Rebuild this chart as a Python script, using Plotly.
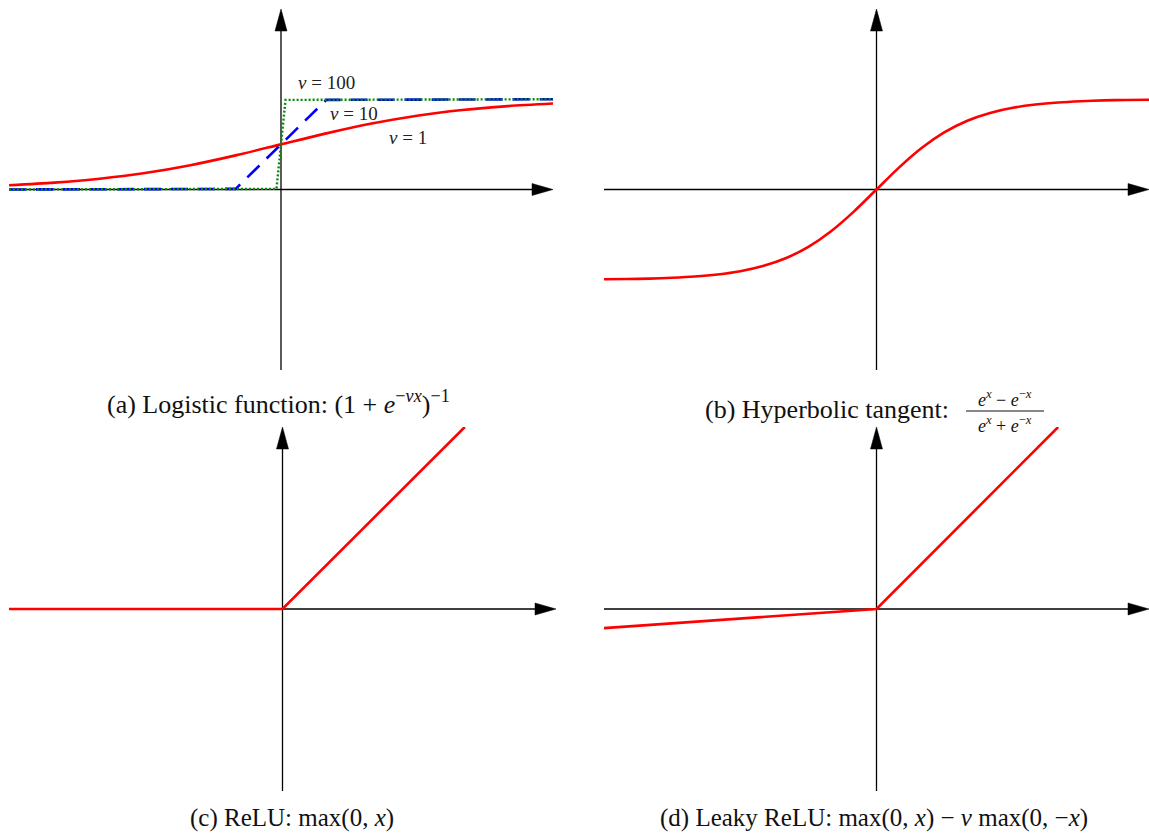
import plotly.graph_objects as go

W, H = 1149, 836

# ---------------- data ----------------
x_logit = [-3.0, -2.5, -2.0, -1.5, -1.0, -0.5, 0.0, 0.5, 1.0, 1.5, 2.0, 2.5, 3.0]
y_nu1 = [0.047, 0.076, 0.119, 0.182, 0.269, 0.378, 0.5, 0.622, 0.731, 0.818, 0.881, 0.924, 0.953]

x_nu10 = [-3.0, -0.5, 0.0, 0.5, 3.0]
y_nu10 = [0.0, 0.007, 0.5, 0.993, 1.0]

x_nu100 = [-3.0, -0.05, 0.0, 0.05, 3.0]
y_nu100 = [0.0, 0.007, 0.5, 0.993, 1.0]

x_tanh = [-3.0, -2.75, -2.5, -2.25, -2.0, -1.75, -1.5, -1.25, -1.0, -0.75, -0.5, -0.25, 0.0,
          0.25, 0.5, 0.75, 1.0, 1.25, 1.5, 1.75, 2.0, 2.25, 2.5, 2.75, 3.0]
y_tanh = [-0.995, -0.992, -0.987, -0.978, -0.964, -0.941, -0.905, -0.848, -0.762, -0.635, -0.462, -0.245, 0.0,
          0.245, 0.462, 0.635, 0.762, 0.848, 0.905, 0.941, 0.964, 0.978, 0.987, 0.992, 0.995]

x_relu = [-3.0, 0.0, 2.0]
y_relu = [0.0, 0.0, 2.0]

x_leaky = [-3.0, 0.0, 2.0]
y_leaky = [-0.21, 0.0, 2.0]

nu_labels = ["<i>ν</i> = 100", "<i>ν</i> = 10", "<i>ν</i> = 1"]
captions = [
    "(a) Logistic function: (1 + <i>e</i><sup>−<i>νx</i></sup>)<sup>−1</sup>",
    "(b) Hyperbolic tangent:",
    "(c) ReLU: max(0, <i>x</i>)",
    "(d) Leaky ReLU: max(0, <i>x</i>) − <i>ν</i> max(0, −<i>x</i>)",
]
frac_num = "<i>e</i><sup><i>x</i></sup> − <i>e</i><sup>−<i>x</i></sup>"
frac_den = "<i>e</i><sup><i>x</i></sup> + <i>e</i><sup>−<i>x</i></sup>"

X_RANGE = [-3, 3]
Y_RANGE = [-2, 2]

RED = "#ff0000"
BLUE = "#0000ff"
GREEN = "#0a8a0a"
SERIF = "Liberation Serif, DejaVu Serif, serif"


def px(x):
    return x / W


def py(y):
    return 1 - y / H


# panel pixel boxes: (left, right, top, bottom)
boxes = {
    "1": (9, 553, 9, 370),
    "2": (604, 1149, 9, 370),
    "3": (9, 556, 427, 791),
    "4": (604, 1149, 427, 791),
}

fig = go.Figure()


def add_line(xs, ys, k, color, dash="solid", width=2.6, shape="linear"):
    fig.add_trace(go.Scatter(
        x=xs, y=ys, mode="lines", xaxis="x" + ("" if k == "1" else k),
        yaxis="y" + ("" if k == "1" else k),
        line=dict(color=color, width=width, dash=dash, shape=shape, smoothing=0.8),
        cliponaxis=False, hoverinfo="skip", showlegend=False))


add_line(x_logit, y_nu1, "1", RED, shape="spline")
add_line(x_nu10, y_nu10, "1", BLUE, dash="17px,10px")
add_line(x_nu100, y_nu100, "1", GREEN, dash="2px,2px", width=2.4)
add_line(x_tanh, y_tanh, "2", RED, shape="spline")
add_line(x_relu, y_relu, "3", RED)
add_line(x_leaky, y_leaky, "4", RED)

layout = dict(
    width=W, height=H, margin=dict(l=0, r=0, t=0, b=0),
    paper_bgcolor="white", plot_bgcolor="white", showlegend=False,
)
shapes = []
annotations = []

for k, (l, r, t, b) in boxes.items():
    xa = "xaxis" + ("" if k == "1" else k)
    ya = "yaxis" + ("" if k == "1" else k)
    xr = "x" + ("" if k == "1" else k)
    yr = "y" + ("" if k == "1" else k)
    layout[xa] = dict(domain=[px(l), min(px(r), 1.0)], range=X_RANGE, visible=False,
                      anchor=yr, fixedrange=True)
    layout[ya] = dict(domain=[py(b), py(t)], range=Y_RANGE, visible=False,
                      anchor=xr, fixedrange=True)
    # axis lines
    shapes.append(dict(type="line", xref=xr, yref=yr, x0=X_RANGE[0], x1=X_RANGE[1] - 0.1,
                       y0=0, y1=0, line=dict(color="black", width=1.3), layer="below"))
    shapes.append(dict(type="line", xref=xr, yref=yr, x0=0, x1=0, y0=Y_RANGE[0],
                       y1=Y_RANGE[1] - 0.1, line=dict(color="black", width=1.3), layer="below"))
    # arrowheads
    shapes.append(dict(type="path", xref=xr, yref=yr, xsizemode="pixel", ysizemode="pixel",
                       xanchor=X_RANGE[1], yanchor=0, path="M0,0 L-21,6 L-21,-6 Z",
                       fillcolor="black", line=dict(color="black", width=0.5), layer="above"))
    shapes.append(dict(type="path", xref=xr, yref=yr, xsizemode="pixel", ysizemode="pixel",
                       xanchor=0, yanchor=Y_RANGE[1], path="M0,0 L-6,-22 L6,-22 Z",
                       fillcolor="black", line=dict(color="black", width=0.5), layer="above"))

# nu labels in panel (a)
for txt, (cx, cy) in zip(nu_labels, [(326, 82), (354, 114), (408, 137)]):
    annotations.append(dict(text=txt, x=px(cx), y=py(cy), xref="paper", yref="paper",
                            showarrow=False, font=dict(family=SERIF, size=19, color="#222"),
                            xanchor="center", yanchor="middle"))

# captions (top row)
for txt, (cx, cy, anc) in zip(captions[:2], [(278, 402, "center"), (703, 409, "left")]):
    annotations.append(dict(text=txt, x=px(cx), y=py(cy), xref="paper", yref="paper",
                            showarrow=False, font=dict(family=SERIF, size=26, color="#111"),
                            xanchor=anc, yanchor="middle"))
# captions (bottom row), kept inside the page
for txt, cx in zip(captions[2:], [292, 874]):
    annotations.append(dict(text=txt, x=px(cx), y=py(833), xref="paper", yref="paper",
                            showarrow=False, font=dict(family=SERIF, size=25, color="#111"),
                            xanchor="center", yanchor="bottom", borderpad=0))

# fraction for tanh
annotations.append(dict(text=frac_num, x=px(1005), y=py(398), xref="paper", yref="paper",
                        showarrow=False, font=dict(family=SERIF, size=18, color="#111"),
                        xanchor="center", yanchor="middle"))
annotations.append(dict(text=frac_den, x=px(1005), y=py(424), xref="paper", yref="paper",
                        showarrow=False, font=dict(family=SERIF, size=18, color="#111"),
                        xanchor="center", yanchor="middle"))
shapes.append(dict(type="line", xref="paper", yref="paper", x0=px(966), x1=px(1044),
                   y0=py(411), y1=py(411), line=dict(color="#111", width=1)))

layout["shapes"] = shapes
layout["annotations"] = annotations
fig.update_layout(**layout)

fig.write_html("out.html")
